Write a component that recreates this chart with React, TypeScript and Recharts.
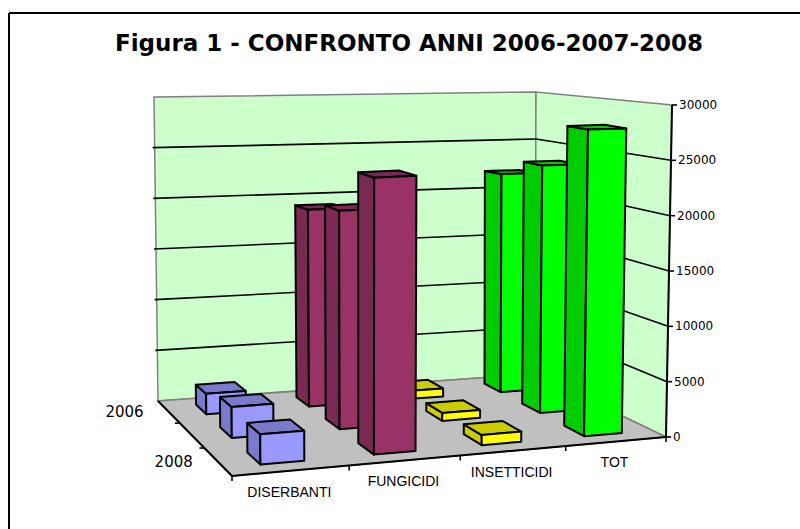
import React from 'react';
import { BarChart, Bar, XAxis, YAxis, Customized } from 'recharts';

const categories = ['DISERBANTI', 'FUNGICIDI', 'INSETTICIDI', 'TOT'];
const values2006 = [1950, 19100, 800, 21950];
const values2007 = [2800, 20100, 750, 23600];
const values2008 = [2600, 24200, 900, 27750];
const yearLabels = ['2006', '2007', '2008'];
const depthLabels = ['2006', '', '2008'];
const yTicks = [0, 5000, 10000, 15000, 20000, 25000, 30000];

const frontColors = ['#9999FF', '#993366', '#FFFF00', '#00FF00'];
const sideColors = ['#7A7ACC', '#7A2952', '#CCCC00', '#00CC00'];

const WIDTH = 800;
const HEIGHT = 529;
// the axes take 1px each, an axis of size 0 is not drawn at all
const PLOT_W = WIDTH - 1;
const PLOT_H = HEIGHT - 1;
const Y_MAX = 30000;
const BAR_GAP = 0.31;
const DEPTH_GAP = 0.28;

const data = categories.map((name, i) => ({
  name,
  v2006: values2006[i],
  v2007: values2007[i],
  v2008: values2008[i],
}));

type Pt = [number, number];

// maps the unit square onto a quad: front-left, front-right, back-right, back-left
const homography = ([p0, p1, p2, p3]: Pt[]) => {
  const dx1 = p1[0] - p2[0];
  const dx2 = p3[0] - p2[0];
  const sx = p0[0] - p1[0] + p2[0] - p3[0];
  const dy1 = p1[1] - p2[1];
  const dy2 = p3[1] - p2[1];
  const sy = p0[1] - p1[1] + p2[1] - p3[1];
  const den = dx1 * dy2 - dx2 * dy1;
  const g = (sx * dy2 - dx2 * sy) / den;
  const h = (dx1 * sy - sx * dy1) / den;
  return (u: number, v: number): Pt => {
    const w = g * u + h * v + 1;
    return [
      ((p1[0] - p0[0] + g * p1[0]) * u + (p3[0] - p0[0] + h * p3[0]) * v + p0[0]) / w,
      ((p1[1] - p0[1] + g * p1[1]) * u + (p3[1] - p0[1] + h * p3[1]) * v + p0[1]) / w,
    ];
  };
};

const floorAt = homography([[232, 476], [666, 437], [535, 374], [158, 401]]);

// floor-to-top vector at the four floor corners
const riseFL: Pt = [-2, -356];
const riseFR: Pt = [6, -332];
const riseBR: Pt = [1, -282];
const riseBL: Pt = [-4, -304];

// u across the categories, d from front (0) to back (1), h from floor (0) to top (1)
const project = (u: number, d: number, h: number): Pt => {
  const a = floorAt(u, d);
  const rise = [0, 1].map(
    (k) =>
      (1 - d) * ((1 - u) * riseFL[k] + u * riseFR[k]) + d * ((1 - u) * riseBL[k] + u * riseBR[k]),
  );
  return [a[0] + rise[0] * h, a[1] + rise[1] * h];
};

const poly = (pts: Pt[]) => pts.map((p) => p.map((n) => n.toFixed(1)).join(',')).join(' ');
const Seg = ({ a, b, stroke = '#000', w = 1.6 }: { a: Pt; b: Pt; stroke?: string; w?: number }) => (
  <line x1={a[0]} y1={a[1]} x2={b[0]} y2={b[1]} stroke={stroke} strokeWidth={w} />
);

// walls, floor and gridlines
const Room = () => {
  const fl = project(0, 0, 0);
  const fr = project(1, 0, 0);
  const br = project(1, 1, 0);
  const bl = project(0, 1, 0);
  const trFront = project(1, 0, 1);
  const trBack = project(1, 1, 1);
  const tlBack = project(0, 1, 1);
  return (
    <g>
      <line x1={9} y1={13} x2={800} y2={13} stroke="#000" strokeWidth={2} />
      <line x1={9} y1={13} x2={9} y2={529} stroke="#000" strokeWidth={2} />
      <polygon points={poly([bl, br, trBack, tlBack])} fill="#CCFFCC" stroke="#808080" strokeWidth={1.5} />
      <polygon points={poly([br, fr, trFront, trBack])} fill="#CCFFCC" stroke="#808080" strokeWidth={1.5} />
      <polygon points={poly([fl, fr, br, bl])} fill="#C0C0C0" stroke="#808080" strokeWidth={1.5} />
      {yTicks.slice(1, -1).map((t) => {
        const h = t / Y_MAX;
        const left = project(0, 1, h);
        return (
          <g key={t}>
            <Seg a={[left[0] - 2, left[1]]} b={project(1, 1, h)} />
            <Seg a={project(1, 1, h)} b={project(1, 0, h)} />
          </g>
        );
      })}
      <Seg a={fl} b={fr} w={2} />
      <Seg a={fl} b={bl} w={2} />
      <Seg a={fr} b={trFront} w={2} />
      {categories.map((_, i) => {
        const p = project(i / categories.length, 0, 0);
        return <Seg key={i} a={p} b={[p[0], p[1] + 5]} />;
      })}
      <Seg a={fr} b={[fr[0], fr[1] + 5]} />
      {yearLabels.map((_, i) => {
        const p = project(0, (i + 1) / yearLabels.length, 0);
        return i < 2 ? <Seg key={i} a={p} b={[p[0] - 5, p[1]]} /> : null;
      })}
      {depthLabels.map((label, i) => {
        const p = project(0, (2.5 - i) / depthLabels.length, 0);
        return (
          <text key={label + i} x={p[0] - 25} y={p[1] + 5} textAnchor="end" fontFamily="DejaVu Sans" fontSize={15} fill="#000">
            {label}
          </text>
        );
      })}
      <text x={409} y={51} textAnchor="middle" fontFamily="DejaVu Sans" fontWeight="bold" fontSize={23} fill="#000">
        Figura 1 - CONFRONTO ANNI 2006-2007-2008
      </text>
    </g>
  );
};

// one column, projected from the flat chart coordinates into the room
const Column = ({ x, y, width, height, index, series }: any) => {
  const u0 = x / PLOT_W;
  const u1 = (x + width) / PLOT_W;
  const h = (PLOT_H - y) / PLOT_H;
  const base = (PLOT_H - y - height) / PLOT_H;
  const slots = yearLabels.length;
  const d0 = (slots - 1 - series + DEPTH_GAP) / slots;
  const d1 = (slots - series - DEPTH_GAP) / slots;
  const stroke = { stroke: '#000', strokeWidth: 2, strokeLinejoin: 'round' as const };
  return (
    <g>
      <polygon
        points={poly([project(u0, d1, base), project(u0, d0, base), project(u0, d0, h), project(u0, d1, h)])}
        fill={sideColors[index]}
        {...stroke}
      />
      <polygon
        points={poly([project(u0, d0, h), project(u1, d0, h), project(u1, d1, h), project(u0, d1, h)])}
        fill={sideColors[index]}
        {...stroke}
      />
      <polygon
        points={poly([project(u0, d0, base), project(u1, d0, base), project(u1, d0, h), project(u0, d0, h)])}
        fill={frontColors[index]}
        {...stroke}
      />
    </g>
  );
};

const CategoryTick = ({ x, payload }: any) => {
  const p = project(x / PLOT_W, 0, 0);
  return (
    <text x={p[0] - 2} y={p[1] + 26} textAnchor="middle" fontFamily="Liberation Sans" fontSize={14} fill="#000">
      {payload.value}
    </text>
  );
};

const ValueTick = ({ y, payload }: any) => {
  const p = project(1, 0, (PLOT_H - y) / PLOT_H);
  return (
    <g>
      <Seg a={p} b={[p[0] + 5, p[1]]} />
      <text x={p[0] + 7} y={p[1] + 4} fontFamily="DejaVu Sans" fontSize={12} fill="#000">
        {payload.value}
      </text>
    </g>
  );
};

const App = () => (
  <div style={{ position: 'absolute', left: 0, top: 0, width: WIDTH, height: HEIGHT }}>
    <BarChart
      width={WIDTH}
      height={HEIGHT}
      data={data}
      margin={{ top: 0, right: 0, bottom: 0, left: 0 }}
      barCategoryGap={`${BAR_GAP * 100}%`}
    >
      <Customized component={Room} />
      <XAxis xAxisId="a" dataKey="name" hide />
      <XAxis xAxisId="b" dataKey="name" hide />
      <XAxis xAxisId="c" dataKey="name" height={1} axisLine={false} tickLine={false} interval={0} tick={<CategoryTick />} />
      <YAxis orientation="right" width={1} domain={[0, Y_MAX]} ticks={yTicks} interval={0} axisLine={false} tickLine={false} tick={<ValueTick />} />
      <Bar xAxisId="a" dataKey="v2006" isAnimationActive={false} shape={(p: any) => <Column {...p} series={0} />} />
      <Bar xAxisId="b" dataKey="v2007" isAnimationActive={false} shape={(p: any) => <Column {...p} series={1} />} />
      <Bar xAxisId="c" dataKey="v2008" isAnimationActive={false} shape={(p: any) => <Column {...p} series={2} />} />
    </BarChart>
  </div>
);

export default App;
